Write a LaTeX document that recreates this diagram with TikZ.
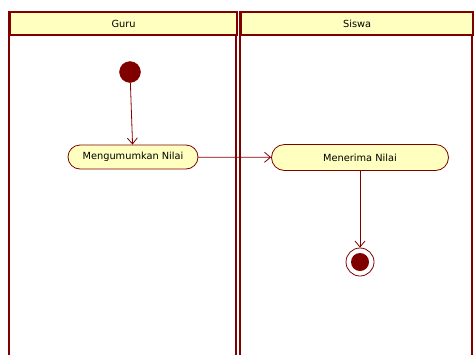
\documentclass[tikz,border=0pt]{standalone}
\usepackage{fontspec}
\setmainfont{DejaVu Sans}
\usetikzlibrary{arrows.meta}
\definecolor{umlred}{HTML}{800000}
\definecolor{umlfill}{HTML}{FFFFC0}
\tikzset{
  lane/.style={draw=umlred, line width=2.2pt},
  lanehead/.style={draw=umlred, fill=umlfill, line width=2.2pt, font=\fontsize{9.8}{11}\selectfont},
  action/.style={draw=umlred, fill=umlfill, line width=0.8pt, rounded corners=12pt, minimum height=24pt, font=\fontsize{9.8}{11}\selectfont, inner sep=0pt},
  flow/.style={draw=umlred, line width=0.8pt, -{Straight Barb[length=6pt,width=10pt]}},
  startnode/.style={circle, fill=umlred, draw=umlred, minimum size=21pt, inner sep=0pt},
  endnode/.style={circle, draw=umlred, fill=white, line width=0.8pt, minimum size=28pt, inner sep=0pt},
  endinner/.style={circle, fill=umlred, minimum size=18pt, inner sep=0pt}
}
\begin{document}
\begin{tikzpicture}[x=1pt,y=-1pt]
\useasboundingbox[fill=white] (0,0) rectangle (474,354);
% lanes
\draw[lane] (9,11) -- (9,360);
\draw[lane] (236,11) -- (236,360);
\draw[lane] (240,11) -- (240,360);
\draw[lane] (472,11) -- (472,360);
\node[lanehead, minimum width=227pt, minimum height=23pt, anchor=north west, inner sep=0pt] (hguru) at (9,11) {Guru};
\node[lanehead, minimum width=232pt, minimum height=23pt, anchor=north west, inner sep=0pt] (hsiswa) at (240,11) {Siswa};
% nodes
\node[startnode] (start) at (130,72) {};
\node[action, minimum width=130pt] (umum) at (133,157) {Mengumumkan Nilai};
\node[action, minimum width=177pt, minimum height=26pt, rounded corners=13pt] (terima) at (360,157.5) {Menerima Nilai};
\node[endnode] (end) at (360,262) {};
\node[endinner] (endin) at (end.center) {};
% flows
\draw[flow] (start) -- (umum);
\draw[flow] (umum) -- (terima);
\draw[flow] (terima) -- (end);
\end{tikzpicture}
\end{document}
